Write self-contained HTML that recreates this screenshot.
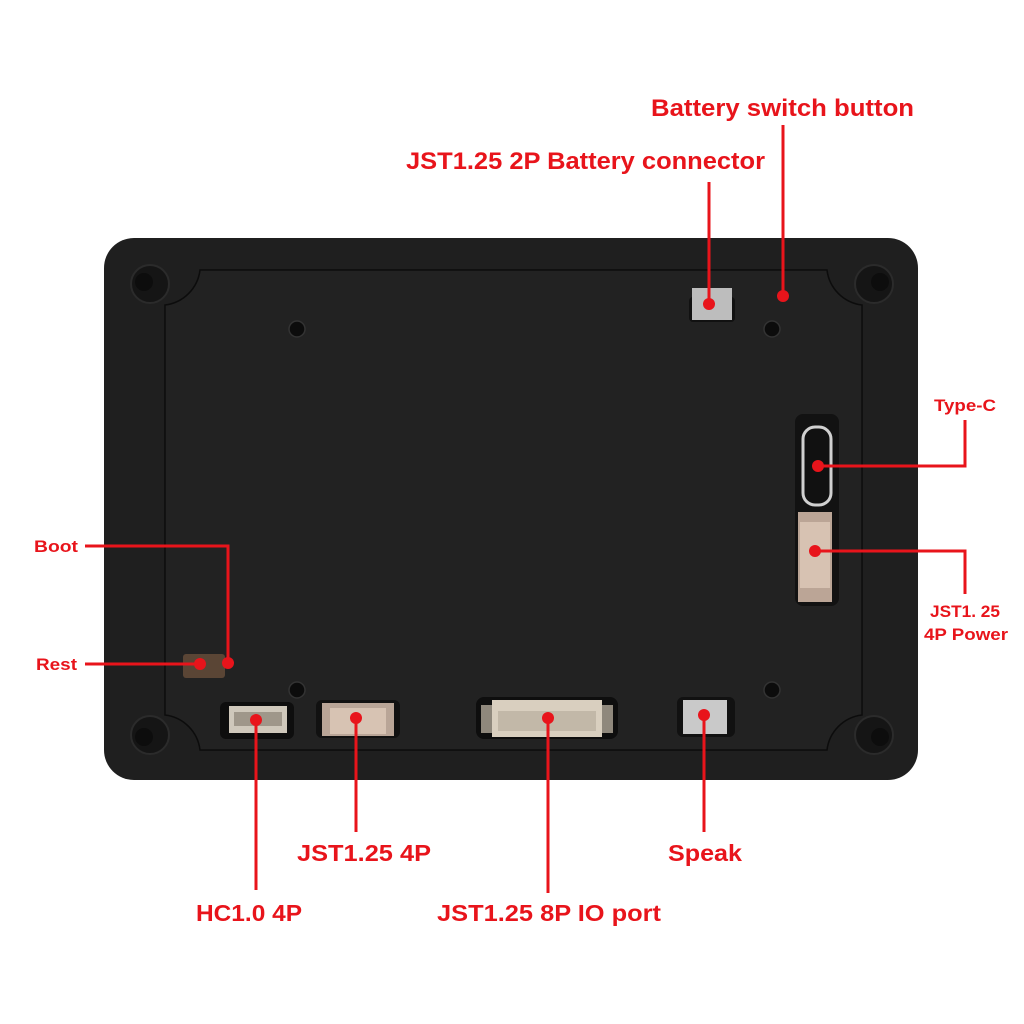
<!DOCTYPE html>
<html><head><style>
html,body{margin:0;padding:0;background:#fff;}
svg{display:block;}
text{font-family:"Liberation Sans","DejaVu Sans",sans-serif;fill:#e8141b;}
</style></head><body>
<svg width="1024" height="1024" viewBox="0 0 1024 1024">
<rect x="104" y="238" width="814" height="542" rx="30" fill="#1f1f1f"/>
<path d="M200,270 L827,270 A40,40 0 0 0 862,305 L862,715 A40,40 0 0 0 827,750 L200,750 A40,40 0 0 0 165,715 L165,305 A40,40 0 0 0 200,270 Z" fill="#222" stroke="#0c0c0c" stroke-width="1.5"/>
<g fill="#151515" stroke="#2b2b2b" stroke-width="2">
<circle cx="150" cy="284" r="19"/><circle cx="874" cy="284" r="19"/>
<circle cx="150" cy="735" r="19"/><circle cx="874" cy="735" r="19"/>
</g>
<g fill="#0d0d0d"><circle cx="144" cy="282" r="9"/><circle cx="880" cy="282" r="9"/><circle cx="144" cy="737" r="9"/><circle cx="880" cy="737" r="9"/></g>
<g fill="#0c0c0c" stroke="#333" stroke-width="1.5">
<circle cx="297" cy="329" r="8"/><circle cx="772" cy="329" r="8"/><circle cx="297" cy="690" r="8"/><circle cx="772" cy="690" r="8"/>
</g>
<rect x="220" y="702" width="74" height="37" rx="6" fill="#0e0e0e"/>
<rect x="229" y="706" width="58" height="27" fill="#cfc8bb"/>
<rect x="234" y="712" width="48" height="14" fill="#9f978a"/>
<rect x="316" y="700" width="84" height="38" rx="6" fill="#111"/>
<rect x="322" y="703" width="72" height="33" fill="#b9a597"/>
<rect x="330" y="708" width="56" height="26" fill="#d7c3b3"/>
<rect x="476" y="697" width="142" height="42" rx="8" fill="#0e0e0e"/>
<rect x="481" y="705" width="132" height="28" fill="#8f887c"/>
<rect x="492" y="700" width="110" height="37" fill="#d9cfbf"/>
<rect x="498" y="711" width="98" height="20" fill="#c2b8a8"/>
<rect x="677" y="697" width="58" height="40" rx="6" fill="#111"/>
<rect x="683" y="700" width="44" height="34" fill="#c9c9c9"/>
<rect x="689" y="297" width="46" height="25" rx="4" fill="#111"/>
<rect x="692" y="288" width="40" height="32" fill="#bdbdbd"/>
<rect x="795" y="414" width="44" height="192" rx="8" fill="#121212"/>
<rect x="803" y="427" width="28" height="78" rx="12" fill="#111" stroke="#d0d0d0" stroke-width="3"/>
<rect x="798" y="512" width="34" height="90" fill="#bba596"/>
<rect x="800" y="522" width="30" height="66" fill="#d7c2b2"/>
<rect x="183" y="654" width="42" height="24" rx="3" fill="#5a4535"/>
<g stroke="#e8141b" stroke-width="3" fill="none">
<path d="M709,182 V304"/><path d="M783,125 V296"/>
<path d="M965,420 V466 H818"/><path d="M965,594 V551 H815"/>
<path d="M85,546 H228 V663"/><path d="M85,664 H200"/>
<path d="M256,720 V890"/><path d="M356,718 V832"/>
<path d="M548,718 V893"/><path d="M704,715 V832"/>
</g>
<g fill="#e8141b">
<circle cx="709" cy="304" r="6"/><circle cx="783" cy="296" r="6"/>
<circle cx="818" cy="466" r="6"/><circle cx="815" cy="551" r="6"/>
<circle cx="228" cy="663" r="6"/><circle cx="200" cy="664" r="6"/>
<circle cx="256" cy="720" r="6"/><circle cx="356" cy="718" r="6"/>
<circle cx="548" cy="718" r="6"/><circle cx="704" cy="715" r="6"/>
</g>
<g font-weight="bold">
<text x="651" y="116" font-size="24" textLength="263" lengthAdjust="spacingAndGlyphs">Battery switch button</text>
<text x="406" y="169" font-size="24" textLength="359" lengthAdjust="spacingAndGlyphs">JST1.25 2P Battery connector</text>
<text x="934" y="411" font-size="17" textLength="62" lengthAdjust="spacingAndGlyphs">Type-C</text>
<text x="930" y="617" font-size="17" textLength="70" lengthAdjust="spacingAndGlyphs">JST1. 25</text>
<text x="924" y="640" font-size="17" textLength="84" lengthAdjust="spacingAndGlyphs">4P Power</text>
<text x="34" y="552" font-size="17" textLength="44" lengthAdjust="spacingAndGlyphs">Boot</text>
<text x="36" y="670" font-size="17" textLength="41" lengthAdjust="spacingAndGlyphs">Rest</text>
<text x="196" y="921" font-size="23" textLength="106" lengthAdjust="spacingAndGlyphs">HC1.0 4P</text>
<text x="297" y="861" font-size="23" textLength="134" lengthAdjust="spacingAndGlyphs">JST1.25 4P</text>
<text x="437" y="921" font-size="23" textLength="224" lengthAdjust="spacingAndGlyphs">JST1.25 8P IO port</text>
<text x="668" y="861" font-size="23" textLength="74" lengthAdjust="spacingAndGlyphs">Speak</text>
</g>
</svg>
</body></html>
